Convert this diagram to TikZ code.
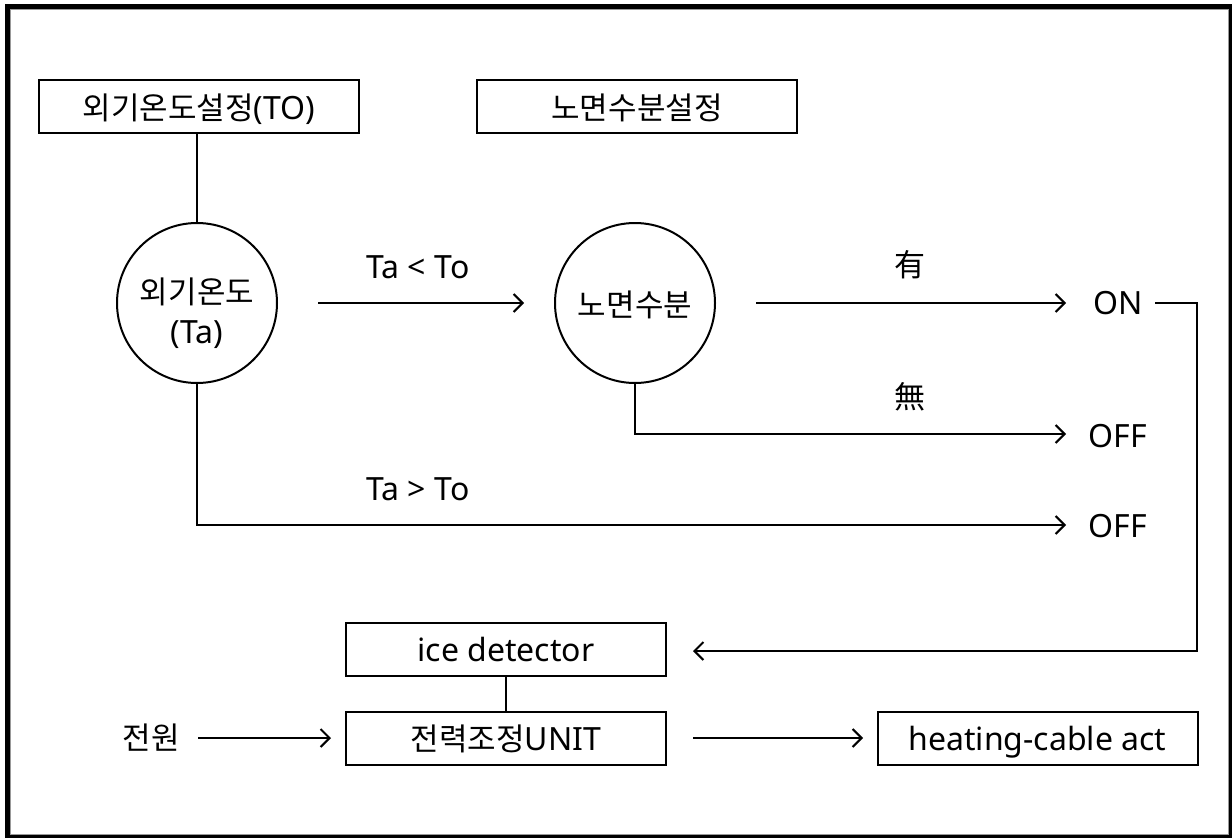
\documentclass[tikz,border=0pt]{standalone}
\usepackage{fontspec}
\setmainfont{Noto Sans}
\newfontfamily\krfam{Noto Sans CJK KR}
\usetikzlibrary{arrows.meta}
\newcommand\latf{\fontsize{32}{40}\selectfont}
\newcommand\korf{\krfam\fontsize{31}{40}\selectfont}
\tikzset{
  boxnode/.style={draw, line width=2pt, minimum width=320pt, minimum height=53pt, inner sep=0pt, text depth=0pt},
  circnode/.style={draw, circle, line width=2pt, minimum size=160pt, inner sep=0pt},
  txt/.style={inner sep=0pt, align=center, font=\latf},
  conn/.style={line width=2pt},
  arr/.style={line width=2pt, -{Straight Barb[length=9pt,width=18pt]}}
}
\begin{document}
\begin{tikzpicture}[x=1pt,y=-1pt]
\useasboundingbox (0,0) rectangle (1232,838);
% frame
\fill[white] (0,0) rectangle (1232,838);
\fill[black] (5,4) rectangle (1232,838);
\fill[white] (10,9) rectangle (1229,835);
\draw[line width=1pt, black!40] (10.5,9.5) rectangle (1228.5,834.5);

% top boxes
\node[boxnode] (to) at (199,106.5) {{\korf 외기온도설정}{\latf (TO)}};
\node[boxnode] (rw) at (637,106.5) {\korf 노면수분설정};

% circles
\node[circnode] (c1) at (197,303) {};
\node[txt] (c1t) at (197,313) {{\korf 외기온도}\\{\latf (Ta)}};
\node[circnode] (c2) at (635,303) {};
\node[txt] (c2t) at (635,305) {\korf 노면수분};

% labels
\node[txt] (llt) at (418,267) {Ta < To};
\node[txt] (lyu) at (910,265) {\korf 有};
\node[txt] (lmu) at (910,397) {\korf 無};
\node[txt] (lgt) at (418,489) {Ta > To};
\node[txt] (on) at (1118,303) {ON};
\node[txt] (off1) at (1118,436) {OFF};
\node[txt] (off2) at (1118,526) {OFF};

% bottom
\node[boxnode] (ice) at (506,649.5) {\latf ice detector};
\node[boxnode] (unit) at (506,738) {{\korf 전력조정}{\latf UNIT}};
\node[boxnode] (heat) at (1037.5,738) {\latf heating-cable act};
\node[txt] (pwr) at (151,738) {\korf 전원};

% coordinates
\coordinate (a1s) at (318,303);
\coordinate (a1e) at (524,303);
\coordinate (a2s) at (756,303);
\coordinate (a2e) at (1066,303);
\coordinate (a3e) at (1066,434);
\coordinate (a4e) at (1066,525);
\coordinate (ons) at (1155,303);
\coordinate (onc1) at (1197,303);
\coordinate (onc2) at (1197,651);
\coordinate (icee) at (693,651);
\coordinate (pws) at (198,738);
\coordinate (pwe) at (331,738);
\coordinate (uns) at (693,738);
\coordinate (une) at (863,738);

% connectors
\draw[conn] (c1.north |- to.south) -- (c1.north);
\draw[arr] (a1s) -- (a1e);
\draw[arr] (a2s) -- (a2e);
\draw[arr] (c2.south) -- (c2.south |- a3e) -- (a3e);
\draw[arr] (c1.south) -- (c1.south |- a4e) -- (a4e);
\draw[arr] (ons) -- (onc1) -- (onc2) -- (icee);
\draw[conn] (ice.south) -- (unit.north);
\draw[arr] (pws) -- (pwe);
\draw[arr] (uns) -- (une);
\end{tikzpicture}
\end{document}
